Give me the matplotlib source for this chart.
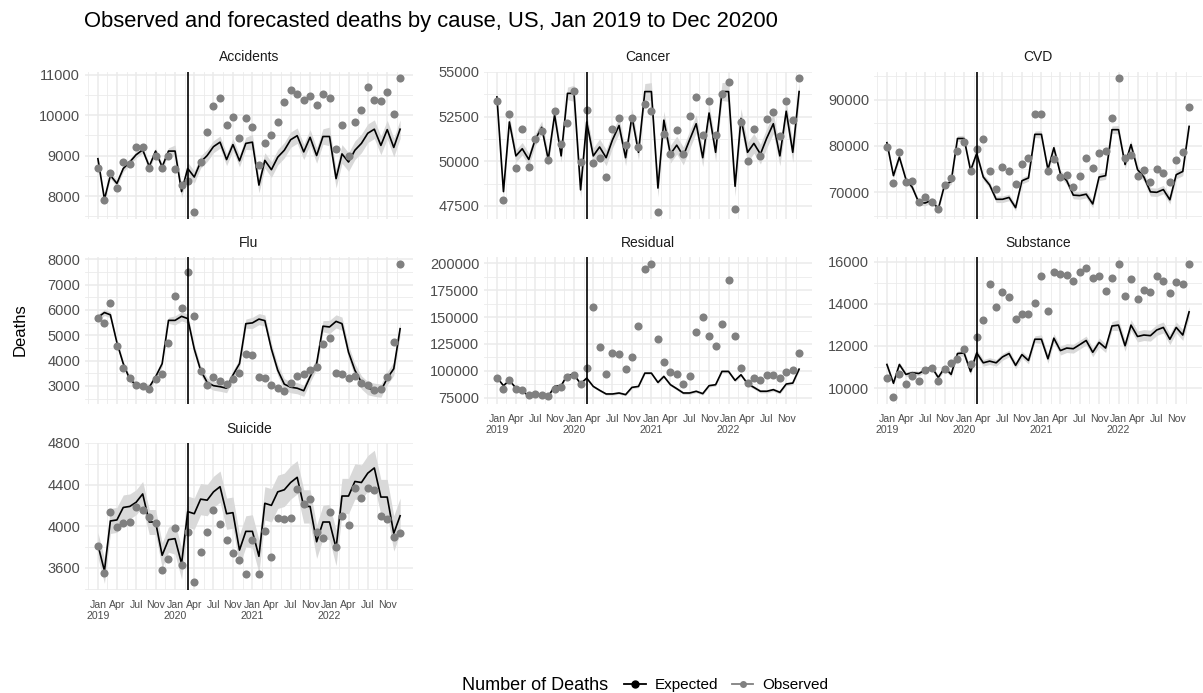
import matplotlib
matplotlib.use("Agg")
import matplotlib.pyplot as plt
import matplotlib.dates as mdates
from matplotlib.lines import Line2D
from matplotlib.ticker import FixedLocator, FixedFormatter, NullFormatter
import numpy as np
import pandas as pd

plt.rcParams['font.family'] = ['Liberation Sans', 'DejaVu Sans']

months = pd.date_range("2019-01-01", "2022-12-01", freq="MS")
quarters = pd.date_range("2019-01-01", "2022-10-01", freq="QS")
quarter_labels = ["Jan\n2019", "Apr", "Jul", "Nov",
                  "Jan\n2020", "Apr", "Jul", "Nov",
                  "Jan\n2021", "Apr", "Jul", "Nov",
                  "Jan\n2022", "Apr", "Jul", "Nov"]
cutoff = pd.Timestamp("2020-03-01")

# monthly deaths, Jan 2019 - Dec 2022
accidents_expected = [8920, 7920, 8510, 8310, 8680, 8840, 9020, 9140, 8730, 9110, 8720, 9110,
                      9110, 8110, 8680, 8470, 8840, 9000, 9220, 9330, 8900, 9270, 8870, 9300,
                      9330, 8270, 8880, 8650, 8960, 9130, 9390, 9490, 9090, 9450, 9000, 9470,
                      9470, 8430, 9040, 8840, 9130, 9300, 9550, 9650, 9250, 9640, 9200, 9650]
accidents_observed = [8690, 7900, 8580, 8190, 8840, 8800, 9210, 9200, 8700, 9000, 8690, 9000,
                      8660, 8270, 8370, 7610, 8840, 9590, 10220, 10410, 9750, 9960, 9430, 9920,
                      9700, 8760, 9300, 9500, 9820, 10320, 10610, 10510, 10360, 10470, 10240, 10530,
                      10420, 9170, 9760, 9000, 9840, 10130, 10700, 10370, 10340, 10580, 10020, 10910]
accidents_band = [80, 150, 190, 230]

cancer_expected = [53600, 48300, 52200, 50300, 50700, 50100, 51200, 51900, 50100, 52600, 50300, 53800,
                   53800, 48400, 52200, 50300, 50800, 50200, 51200, 52000, 50200, 52500, 50500, 53900,
                   53900, 48500, 52300, 50400, 50900, 50300, 51200, 52100, 50200, 52700, 50500, 53900,
                   53900, 48600, 52400, 50500, 51000, 50400, 51300, 52100, 50300, 52800, 50500, 53900]
cancer_observed = [53400, 47850, 52660, 49640, 51820, 49700, 51240, 51700, 50090, 52820, 50970, 52120,
                   53930, 49970, 52860, 49930, 50190, 49100, 51820, 52430, 50910, 52430, 50810, 53190,
                   52800, 47170, 51550, 50380, 51750, 50400, 52510, 53600, 51490, 53380, 51490, 53770,
                   54450, 47300, 52170, 49990, 51820, 50320, 52370, 52760, 51400, 53380, 52330, 54650]
cancer_band = [350, 450, 500, 550]

cvd_expected = [80700, 73600, 77600, 72800, 71100, 67800, 67700, 68300, 66400, 71600, 72300, 81600,
                81600, 74700, 78400, 73300, 71600, 68500, 68500, 68900, 66700, 72500, 73100, 82500,
                82500, 74900, 79600, 74000, 72500, 69400, 69300, 69600, 67500, 73300, 73600, 83500,
                83500, 76000, 80300, 74900, 73300, 70100, 70000, 70600, 68400, 73800, 74500, 84200]
cvd_observed = [79800, 72000, 78600, 72200, 72400, 68000, 69100, 68000, 66400, 71600, 73100, 78900,
                80800, 74600, 79300, 81600, 74500, 70700, 75500, 74600, 71700, 76000, 77500, 86900,
                86900, 74700, 77100, 73400, 73800, 71200, 73600, 77300, 75300, 78400, 78900, 86000,
                94600, 77300, 78100, 73600, 74900, 72300, 75100, 74100, 72200, 77000, 78700, 88300]
cvd_band = [600, 700, 800, 900]

flu_expected = [5710, 5900, 5810, 4710, 3880, 3260, 3040, 3000, 2950, 3360, 3880, 5590,
                5590, 5750, 5660, 4460, 3620, 3140, 3010, 2970, 2910, 3430, 3880, 5460,
                5490, 5640, 5580, 4460, 3620, 3070, 2950, 2910, 2810, 3360, 3880, 5360,
                5330, 5550, 5460, 4330, 3620, 3140, 2910, 2850, 2810, 3300, 3680, 5260]
flu_observed = [5680, 5490, 6260, 4590, 3720, 3300, 3040, 3000, 2870, 3260, 3490, 4710,
                6570, 6070, 7520, 5770, 3580, 3040, 3340, 3190, 3080, 3270, 3520, 4260,
                4240, 3360, 3320, 3040, 2910, 2810, 3130, 3390, 3490, 3640, 3750, 4640,
                4890, 3520, 3460, 3300, 3390, 3100, 3040, 2850, 2880, 3360, 4740, 7830]
flu_band = [120, 180, 220, 260]

residual_expected = [94000, 86400, 91300, 84200, 81200, 77200, 77200, 78100, 76500, 85700, 86400, 96500,
                     96500, 88200, 93400, 85700, 82100, 78700, 78700, 79600, 78100, 84800, 85700, 98000,
                     98000, 89400, 95000, 87300, 83600, 79600, 79600, 81200, 79000, 86400, 87300, 99600,
                     99600, 91300, 96500, 88200, 84800, 81200, 81200, 82700, 80200, 87900, 88800, 101700]
residual_observed = [93400, 83600, 91900, 83600, 82100, 77500, 78700, 77500, 76500, 83600, 84800, 94000,
                     96500, 87900, 102600, 159500, 122600, 97100, 116500, 115500, 101700, 112500, 141600, 194200,
                     199400, 129400, 107900, 98700, 97500, 88200, 95000, 136400, 150200, 132400, 123200, 143500,
                     184000, 132400, 102600, 88800, 93400, 91900, 96500, 96500, 93400, 98700, 101100, 116500]
residual_band = [900, 1100, 1300, 1500]

substance_expected = [11120, 10230, 11120, 10650, 10730, 10690, 10860, 11000, 10500, 10970, 10650, 11640,
                      11670, 10780, 11670, 11200, 11280, 11200, 11480, 11640, 11080, 11590, 11310, 12320,
                      12320, 11390, 12370, 11780, 11900, 11870, 12060, 12260, 11700, 12170, 11900, 12950,
                      12990, 12010, 12990, 12450, 12520, 12490, 12760, 12880, 12320, 12880, 12520, 13620]
substance_observed = [10500, 9560, 10650, 10190, 10580, 10340, 10860, 10970, 10340, 10920, 11170, 11400,
                      11850, 11120, 12420, 13230, 14940, 13850, 14550, 14320, 13260, 13540, 13540, 14040,
                      15330, 13650, 15530, 15440, 15360, 15070, 15530, 15720, 15220, 15330, 14600, 15220,
                      15910, 14390, 15170, 14240, 14660, 14550, 15330, 15070, 14500, 15050, 14940, 15880]
substance_band = [110, 160, 210, 260]

suicide_expected = [3820, 3570, 4050, 4060, 4180, 4190, 4230, 4310, 4040, 4040, 3720, 3870,
                    3880, 3640, 4140, 4120, 4260, 4250, 4330, 4380, 4120, 4130, 3770, 3950,
                    3950, 3710, 4220, 4200, 4330, 4350, 4420, 4470, 4190, 4190, 3850, 4040,
                    4040, 3790, 4290, 4290, 4430, 4420, 4510, 4560, 4280, 4280, 3930, 4100]
suicide_observed = [3810, 3550, 4140, 3990, 4030, 4040, 4180, 4160, 4090, 4030, 3580, 3680,
                    3980, 3630, 3940, 3460, 3750, 3940, 4160, 4020, 3870, 3740, 3670, 3540,
                    3870, 3540, 3950, 3700, 4080, 4070, 4080, 4360, 4210, 4260, 3940, 3890,
                    4140, 3800, 4100, 4010, 4370, 4270, 4370, 4350, 4100, 4070, 3900, 3930]
suicide_band = [120, 150, 160, 170]

panels = [
    ("Accidents", accidents_expected, accidents_observed, accidents_band, [8000, 9000, 10000, 11000], 0, 0),
    ("Cancer", cancer_expected, cancer_observed, cancer_band, [47500, 50000, 52500, 55000], 0, 1),
    ("CVD", cvd_expected, cvd_observed, cvd_band, [70000, 80000, 90000], 0, 2),
    ("Flu", flu_expected, flu_observed, flu_band, [3000, 4000, 5000, 6000, 7000, 8000], 1, 0),
    ("Residual", residual_expected, residual_observed, residual_band,
     [75000, 100000, 125000, 150000, 175000, 200000], 1, 1),
    ("Substance", substance_expected, substance_observed, substance_band, [10000, 12000, 14000, 16000], 1, 2),
    ("Suicide", suicide_expected, suicide_observed, suicide_band, [3600, 4000, 4400, 4800], 2, 0),
]
# panels that carry the date axis labels
labelled = {"Residual", "Substance", "Suicide"}

W, H = 1203, 693
fig = plt.figure(figsize=(W / 100, H / 100), dpi=100)

col_left = [85, 484, 874]
row_top = [71.5, 257, 443]
pw, ph = 328, 147

xnum = mdates.date2num(months)
qnum = mdates.date2num(quarters)
minor_x = np.concatenate([[qnum[0] - 45.5], (qnum[:-1] + qnum[1:]) / 2, [qnum[-1] + 46]])
grid_col = "#EBEBEB"
obs_col = "#808080"

for name, expected, observed, band, yticks, r, c in panels:
    ax = fig.add_axes([col_left[c] / W, 1 - (row_top[r] + ph) / H, pw / W, ph / H])
    expected = np.array(expected, dtype=float)
    half = np.repeat(band, 12)
    ax.fill_between(xnum, expected - half, expected + half, color="#D9D9D9", lw=0, zorder=2)
    ax.plot(xnum, expected, color="black", lw=1.2, zorder=3)
    ax.scatter(xnum, observed, s=34, color=obs_col, lw=0, zorder=4)
    ax.axvline(mdates.date2num(cutoff), color="black", lw=1.2, zorder=5)

    ax.set_xlim(xnum[0] - 61, xnum[-1] + 61)
    ax.margins(y=0.05)
    ax.xaxis.set_major_locator(FixedLocator(qnum))
    ax.xaxis.set_minor_locator(FixedLocator(minor_x))
    if name in labelled:
        ax.xaxis.set_major_formatter(FixedFormatter(quarter_labels))
    else:
        ax.xaxis.set_major_formatter(NullFormatter())
    ax.set_yticks(yticks)
    ax.set_yticklabels([str(v) for v in yticks])
    step = yticks[1] - yticks[0]
    ymin, ymax = ax.get_ylim()
    minor_y = np.arange(yticks[0] - step * 1.5, yticks[-1] + step, step)
    ax.yaxis.set_minor_locator(FixedLocator(minor_y))
    ax.set_ylim(ymin, ymax)

    ax.grid(which="major", color=grid_col, lw=1.1, zorder=0)
    ax.grid(which="minor", color=grid_col, lw=0.6, zorder=0)
    ax.set_axisbelow(True)
    for s in ax.spines.values():
        s.set_visible(False)
    ax.tick_params(which="both", length=0)
    ax.tick_params(axis="y", labelsize=10.5, labelcolor="#4D4D4D", pad=3.5)
    ax.tick_params(axis="x", labelsize=7.6, labelcolor="#4D4D4D", pad=7)
    ax.set_title(name, fontsize=10, color="#1A1A1A", pad=7.5)

fig.text(84 / W, 1 - 22 / H, "Observed and forecasted deaths by cause, US, Jan 2019 to Dec 20200",
         fontsize=15.8, ha="left", va="center")
fig.text(20 / W, 1 - 330 / H, "Deaths", fontsize=12, rotation=90, ha="center", va="center")

fig.text(462 / W, 1 - 685 / H, "Number of Deaths", fontsize=13, ha="left", va="center")
handles = [Line2D([0], [0], color="black", lw=1.3, marker="o", markersize=5),
           Line2D([0], [0], color=obs_col, lw=1.3, marker="o", markersize=5, markeredgewidth=0)]
fig.legend(handles, ["Expected", "Observed"], loc="center left", bbox_to_anchor=(618 / W, 1 - 685 / H),
           ncol=2, frameon=False, fontsize=11, handlelength=1.4, handletextpad=0.6,
           columnspacing=0.9, borderaxespad=0)

fig.savefig("out.png", dpi=100)
